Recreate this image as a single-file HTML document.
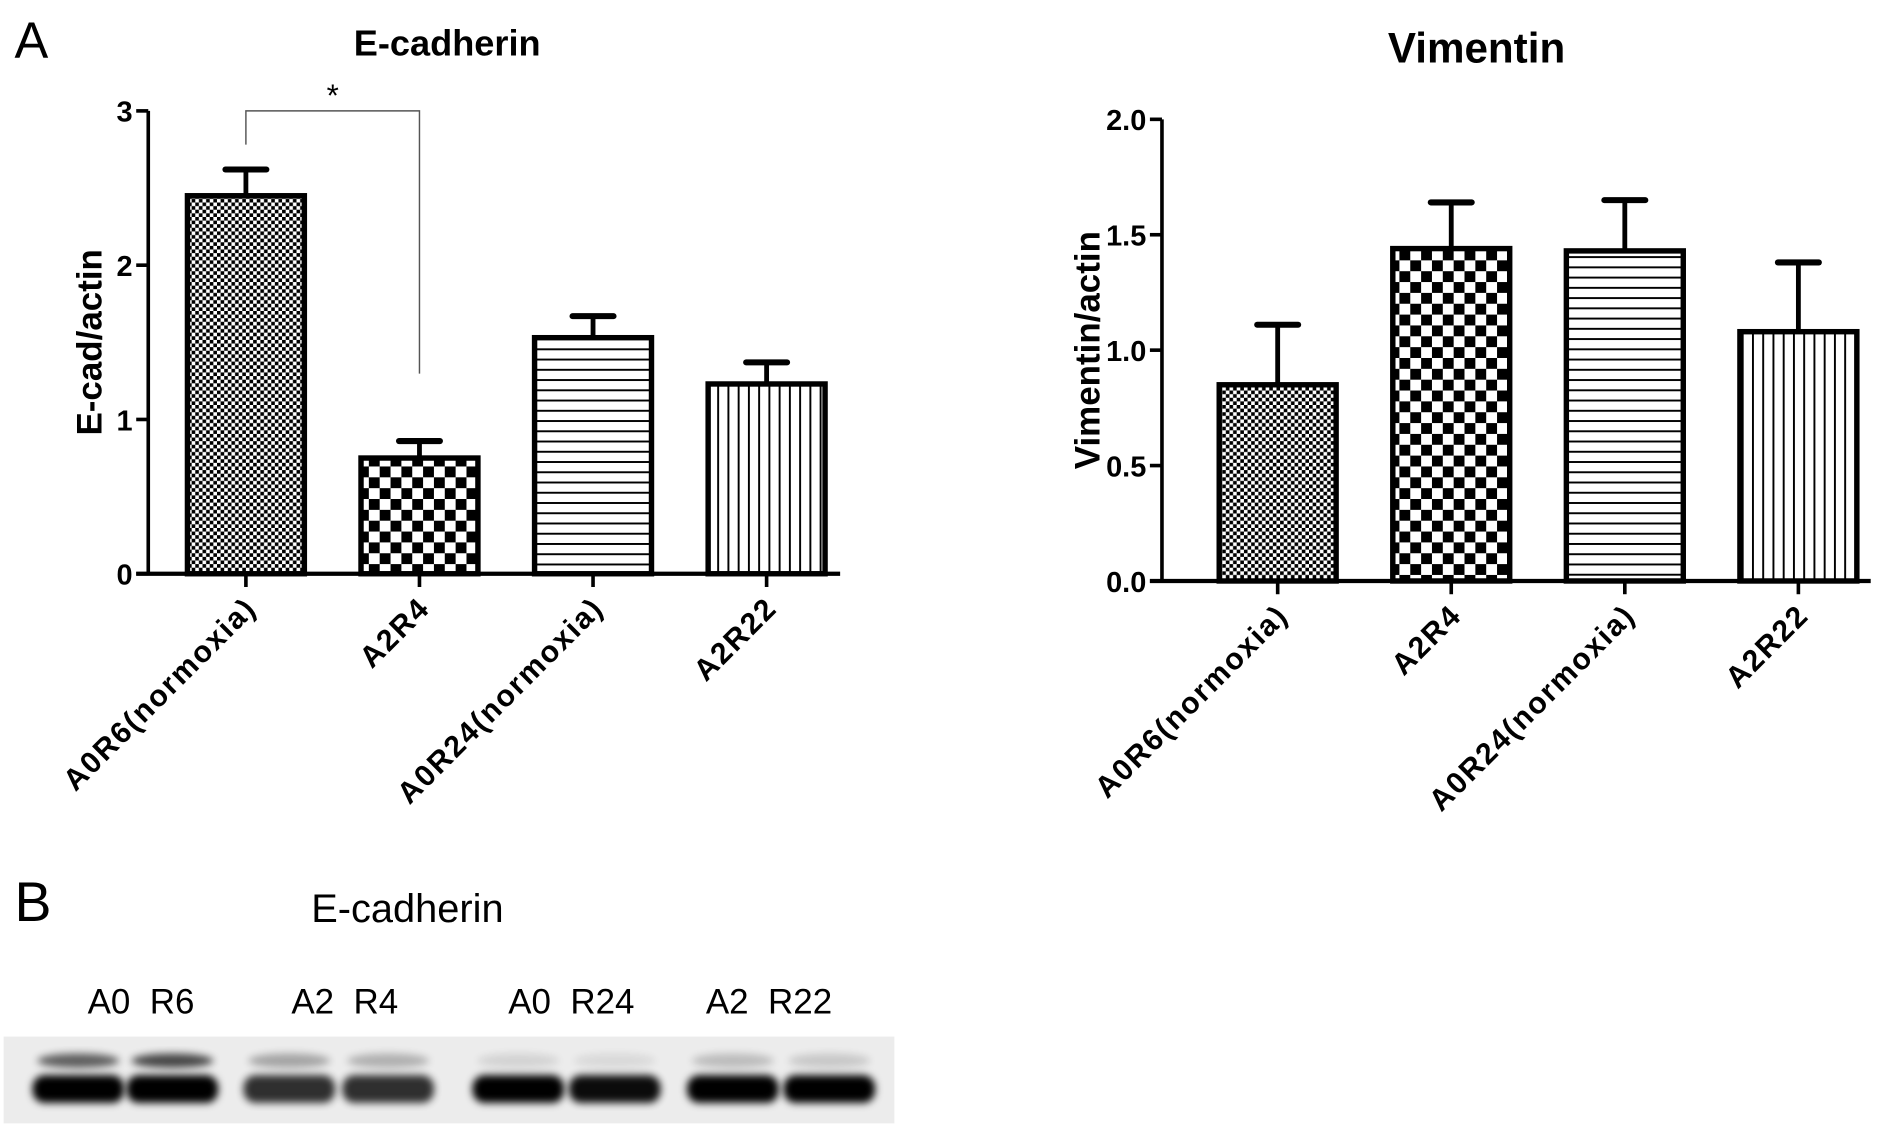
<!DOCTYPE html>
<html><head><meta charset="utf-8"><style>
html,body{margin:0;padding:0;background:#fff;}
svg{display:block;}
text{font-family:"Liberation Sans",Arial,sans-serif;}
</style></head><body>
<svg id="fig" width="1890" height="1127" viewBox="0 0 1568 935" xmlns="http://www.w3.org/2000/svg">
<defs>
<pattern id="pFine" width="6" height="6" patternUnits="userSpaceOnUse"><rect width="6" height="6" fill="#fff"/><rect width="3" height="3" fill="#000"/><rect x="3" y="3" width="3" height="3" fill="#000"/></pattern>
<pattern id="pCoarse" width="18" height="18" patternUnits="userSpaceOnUse"><rect width="18" height="18" fill="#fff"/><rect width="9" height="9" fill="#000"/><rect x="9" y="9" width="9" height="9" fill="#000"/></pattern>
<pattern id="pHoriz" width="10" height="8.5" patternUnits="userSpaceOnUse"><rect width="10" height="8.5" fill="#fff"/><rect y="0" width="10" height="1.6" fill="#000"/></pattern>
<pattern id="pVert" width="8.5" height="10" patternUnits="userSpaceOnUse"><rect width="8.5" height="10" fill="#fff"/><rect x="0" width="1.6" height="10" fill="#000"/></pattern>
<filter id="blur" x="-20%" y="-50%" width="140%" height="200%"><feGaussianBlur stdDeviation="3.2"/></filter>
</defs>
<text x="12" y="48" font-size="42">A</text>
<g id="left"></g>
<g id="right"></g>

<text x="12" y="764" font-size="46">B</text>
<text x="338" y="765" font-size="33" text-anchor="middle">E-cadherin</text>
<g font-size="29">
<text x="117" y="841" text-anchor="middle">A0&#160;&#160;R6</text>
<text x="286" y="841" text-anchor="middle">A2&#160;&#160;R4</text>
<text x="474" y="841" text-anchor="middle">A0&#160;&#160;R24</text>
<text x="638" y="841" text-anchor="middle">A2&#160;&#160;R22</text>
</g>
<g id="blot">
<rect x="3" y="860" width="739" height="72" fill="#ececec"/>
</g>
</svg>
<script>
// ---- data ----
const categories = ["A0R6(normoxia)", "A2R4", "A0R24(normoxia)", "A2R22"];
const ecadValues = [2.45, 0.75, 1.53, 1.23];
const ecadErrors = [0.17, 0.11, 0.14, 0.14];
const ecadTicks = [0, 1, 2, 3];
const ecadTickLabels = ["0", "1", "2", "3"];
const vimValues = [0.85, 1.44, 1.43, 1.08];
const vimErrors = [0.26, 0.20, 0.22, 0.30];
const vimTicks = [0, 0.5, 1, 1.5, 2];
const vimTickLabels = ["0.0", "0.5", "1.0", "1.5", "2.0"];
const upperBand = [0.6, 0.7, 0.3, 0.25, 0.1, 0.08, 0.2, 0.15];
const lowerBand = [1.0, 1.0, 0.8, 0.8, 1.0, 0.95, 1.0, 1.0];
const fills = ["url(#pFine)", "url(#pCoarse)", "url(#pHoriz)", "url(#pVert)"];

const NS = "http://www.w3.org/2000/svg";
function mk(parent, tag, attrs, txt){
  const e = document.createElementNS(NS, tag);
  for (const k in attrs) e.setAttribute(k, attrs[k]);
  if (txt !== undefined) e.textContent = txt;
  parent.appendChild(e); return e;
}

function drawChart(g, cfg){
  const y = v => cfg.y0 - (v - 0) / cfg.max * (cfg.y0 - cfg.yTop);
  const xc = i => cfg.x0 + cfg.first + i * cfg.step;
  const t = mk(g, "text", {x: cfg.titleX, y: cfg.titleY, "font-size": cfg.titleSize, "font-weight": "bold", "text-anchor": "middle"}, cfg.title);
  
  
  const yl = mk(g, "text", {transform: `translate(${cfg.ylX},${(cfg.y0+cfg.yTop)/2}) rotate(-90)`, "font-size": cfg.ylSize, "font-weight": "bold", "text-anchor": "middle"}, cfg.ylabel);
  
  
  cfg.values.forEach((v, i) => {
    const cx = xc(i), top = y(v), et = y(v + cfg.errors[i]);
    const eb = mk(g, "line", {x1: cx, x2: cx, y1: top, y2: et, stroke: "#000", "stroke-width": 4});
    
    
    const cap = mk(g, "line", {x1: cx - 17, x2: cx + 17, y1: et, y2: et, stroke: "#000", "stroke-width": 5, "stroke-linecap": "round"});
    
    
    const r = mk(g, "rect", {x: cx - cfg.bw/2, y: top, width: cfg.bw, height: cfg.y0 - top, fill: fills[i], stroke: "#000", "stroke-width": 4.5});
    
    
    const tk = mk(g, "line", {x1: cx, x2: cx, y1: cfg.y0, y2: cfg.y0 + 11, stroke: "#000", "stroke-width": 3});
    
    
    const lb = mk(g, "text", {transform: `translate(${cx + 10},${cfg.y0 + 30}) rotate(-45)`, "font-size": 25, "font-weight": "bold", "letter-spacing": "1.5", "text-anchor": "end"}, categories[i]);
    
    
  });
  const ya = mk(g, "line", {x1: cfg.x0, x2: cfg.x0, y1: cfg.yTop, y2: cfg.y0 + 1.5, stroke: "#000", "stroke-width": 3});
  
  
  const xa = mk(g, "line", {x1: cfg.x0 - 10, x2: cfg.xEnd, y1: cfg.y0, y2: cfg.y0, stroke: "#000", "stroke-width": 3.5});
  
  
  cfg.ticks.forEach((tv, i) => {
    const ty = y(tv);
    const tl = mk(g, "line", {x1: cfg.x0 - 10, x2: cfg.x0, y1: ty, y2: ty, stroke: "#000", "stroke-width": 3});
    
    
    const tt = mk(g, "text", {x: cfg.x0 - 13, y: ty + 9, "font-size": 24, "font-weight": "bold", "text-anchor": "end"}, cfg.tickLabels[i]);
    
    
  });
  return {y, xc};
}

const L = drawChart(document.getElementById("left"), {
  x0: 123, y0: 476, yTop: 92, max: 3, first: 81, step: 144, bw: 97, xEnd: 697,
  values: ecadValues, errors: ecadErrors, ticks: ecadTicks, tickLabels: ecadTickLabels,
  title: "E-cadherin", titleX: 371, titleY: 46, titleSize: 30, ylabel: "E-cad/actin", ylX: 84, ylSize: 29
});
const lg = document.getElementById("left");
const br = mk(lg, "path", {d: `M${L.xc(0)},120 V${L.y(3)} H${L.xc(1)} V310`, fill: "none", stroke: "#555", "stroke-width": 1.2});


const st = mk(lg, "text", {x: (L.xc(0) + L.xc(1)) / 2, y: 88, "font-size": 26, "text-anchor": "middle"}, "*");



drawChart(document.getElementById("right"), {
  x0: 964, y0: 482, yTop: 99, max: 2, first: 96, step: 144, bw: 97, xEnd: 1552,
  values: vimValues, errors: vimErrors, ticks: vimTicks, tickLabels: vimTickLabels,
  title: "Vimentin", titleX: 1225, titleY: 52, titleSize: 35, ylabel: "Vimentin/actin", ylX: 912, ylSize: 29
});

const bg = document.getElementById("blot");
const laneX = [65, 143, 240, 322, 430, 510, 608, 688];
laneX.forEach((cx, i) => {
  const u = mk(bg, "ellipse", {cx: cx, cy: 880, rx: 34, ry: 6, fill: "#000", opacity: upperBand[i], filter: "url(#blur)"});
  
  
  const l = mk(bg, "rect", {x: cx - 38, y: 892, width: 76, height: 23, rx: 10, fill: "#000", opacity: lowerBand[i], filter: "url(#blur)"});
  
  
});
</script>
</body></html>
